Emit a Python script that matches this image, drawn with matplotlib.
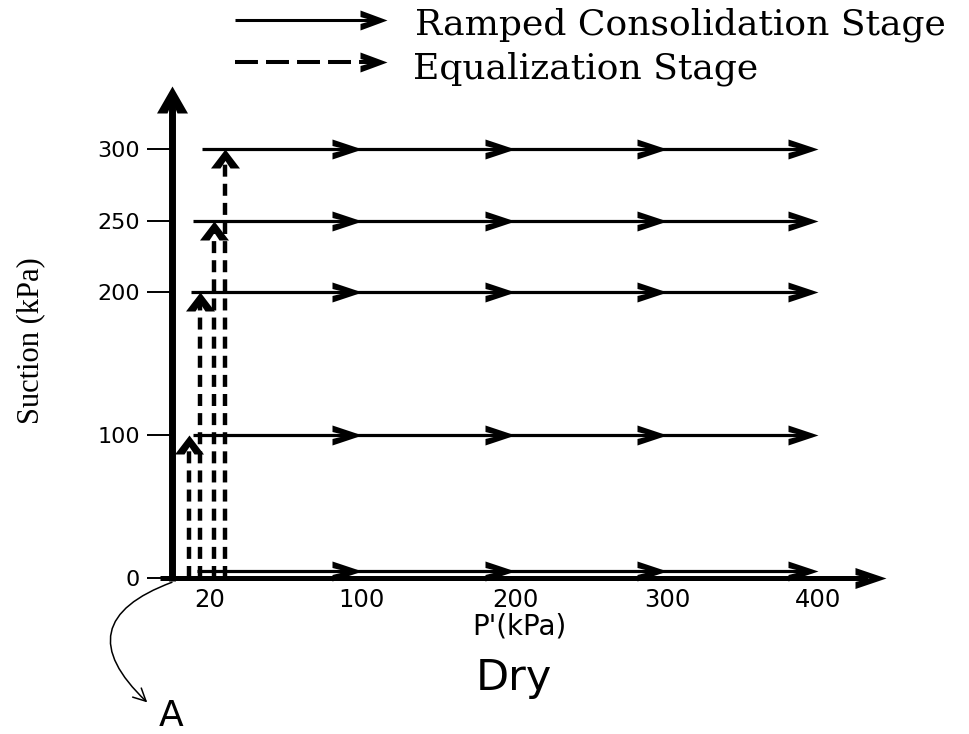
import numpy as np
import matplotlib
matplotlib.use("Agg")
import matplotlib.pyplot as plt
from matplotlib.path import Path

# suction held during each ramped consolidation stage (kPa)
suction_levels = [0, 100, 200, 250, 300]
# p' at which each ramp starts (kPa)
ramp_start = [13, 11, 10, 11, 16]
# p' checkpoints reached along every ramp (kPa)
ramp_targets = [100, 200, 300, 400]
# equalization paths: p' (kPa) and the suction they bring the sample to (kPa)
eq_p = [9, 15, 22, 28]
eq_suction = [100, 200, 250, 300]

y_ticks = [0, 100, 200, 250, 300]
x_ticks = [20, 100, 200, 300, 400]

ZERO_ROW_LIFT = 5  # keeps the zero-suction ramp visible above the axis

# p' axis is schematic: piecewise spacing between the labelled values
P_KNOTS = np.array([0, 20, 100, 200, 300, 400], float)
P_POS = np.array([0, 38, 190, 343, 495, 646], float)
SLOPE_L, SLOPE_R = 1.9, 1.51


def _p_forward(x):
    x = np.asarray(x, float)
    out = np.interp(x, P_KNOTS, P_POS)
    out = np.where(x < P_KNOTS[0], P_POS[0] + (x - P_KNOTS[0]) * SLOPE_L, out)
    out = np.where(x > P_KNOTS[-1], P_POS[-1] + (x - P_KNOTS[-1]) * SLOPE_R, out)
    return out


def _p_inverse(u):
    u = np.asarray(u, float)
    out = np.interp(u, P_POS, P_KNOTS)
    out = np.where(u < P_POS[0], P_KNOTS[0] + (u - P_POS[0]) / SLOPE_L, out)
    out = np.where(u > P_POS[-1], P_KNOTS[-1] + (u - P_POS[-1]) / SLOPE_R, out)
    return out


def chevron(length, half, notch, inner, direction="right"):
    """Filled barbed arrowhead as a marker path (pixel units); tip on the point."""
    verts = [(0, 0), (-length, half), (-length, inner), (-notch, 0),
             (-length, -inner), (-length, -half), (0, 0)]
    if direction == "up":
        verts = [(-y, x) for x, y in verts]
    size = 2 * max(length, half) * 0.72
    return Path(verts, closed=True), size


def head(ax, x, y, marker, **kw):
    path, size = marker
    ax.plot([x], [y], marker=path, ms=size, mew=0, color="black",
            linestyle="none", zorder=5, clip_on=False, **kw)


fig = plt.figure(figsize=(9.7, 7.34), dpi=100)
ax = fig.add_axes([0, 0, 1, 1])
ax.set_xscale("function", functions=(_p_forward, _p_inverse))
ax.set_xlim(-90.5, 500.7)
ax.set_ylim(-109.1, 404.2)
ax.patch.set_visible(False)

ramp_head = chevron(30, 10, 16, 3.5)
eq_head = chevron(19, 14.5, 11.5, 5, "up")

# ramped consolidation paths
for s, p0 in zip(suction_levels, ramp_start):
    y = s if s > 0 else ZERO_ROW_LIFT
    ax.plot([p0, ramp_targets[-1] - 4], [y, y], color="black", lw=2.3,
            solid_capstyle="butt", zorder=3)
    for p in ramp_targets:
        head(ax, p, y, ramp_head)

# equalization paths
for p, s in zip(eq_p, eq_suction):
    ax.plot([p, p], [0, s - 5], color="black", lw=3.2, dashes=(2.7, 1.6),
            dash_capstyle="butt", zorder=3)
    head(ax, p, s, eq_head)

# axes drawn as arrows
ax.plot([-6.3, 433], [0, 0], color="black", lw=3.6, solid_capstyle="butt", zorder=4)
head(ax, 445, 0, chevron(31, 10.5, 17, 3.5))
ax.plot([0, 0], [-2, 336], color="black", lw=5, solid_capstyle="butt", zorder=4)
head(ax, 0, 344, chevron(27, 15.5, 15, 5, "up"))

for side in ["top", "right", "left", "bottom"]:
    ax.spines[side].set_visible(False)
ax.spines["left"].set_position(("data", 0))
ax.spines["bottom"].set_position(("data", 0))
ax.set_yticks(y_ticks)
ax.set_yticklabels([str(v) for v in y_ticks])
ax.set_xticks(x_ticks)
ax.set_xticklabels([str(v) for v in x_ticks])
ax.xaxis.set_minor_locator(matplotlib.ticker.NullLocator())
ax.tick_params(axis="y", direction="out", length=18, width=1.4, pad=5, labelsize=16)
ax.tick_params(axis="x", length=0, pad=7, labelsize=17.5)

# curved pointer from the origin to point A
ax.annotate("", xy=(-13, -87), xytext=(0, -3),
            arrowprops=dict(arrowstyle="->,head_length=0.9,head_width=0.45",
                            lw=1.1, color="black", shrinkA=0, shrinkB=0,
                            connectionstyle="arc3,rad=0.8"))

# overlay in pixel units for the key and free labels
lax = fig.add_axes([0, 0, 1, 1])
lax.set_xlim(0, 970)
lax.set_ylim(734, 0)
lax.axis("off")

key_head = chevron(27, 10, 15, 3.5)
lax.plot([235, 380], [20, 20], color="black", lw=2.2, solid_capstyle="butt")
head(lax, 387, 20, key_head)
lax.plot([235, 378], [62, 62], color="black", lw=2.9, dashes=(5.7, 2.0),
         dash_capstyle="butt")
head(lax, 387, 62, key_head)

lax.text(415, 35, "Ramped Consolidation Stage", fontsize=26,
         family="DejaVu Serif", ha="left", va="baseline")
lax.text(413, 78, "Equalization Stage", fontsize=26,
         family="DejaVu Serif", ha="left", va="baseline")
lax.text(31, 341, "Suction (kPa)", fontsize=22, family="Liberation Serif",
         rotation=90, ha="center", va="center")
lax.text(519, 627, "P'(kPa)", fontsize=20, ha="center", va="center")
lax.text(514, 690, "Dry", fontsize=31, ha="center", va="baseline")
lax.text(171, 726, "A", fontsize=26, ha="center", va="baseline")

fig.savefig("out.png", dpi=100)
